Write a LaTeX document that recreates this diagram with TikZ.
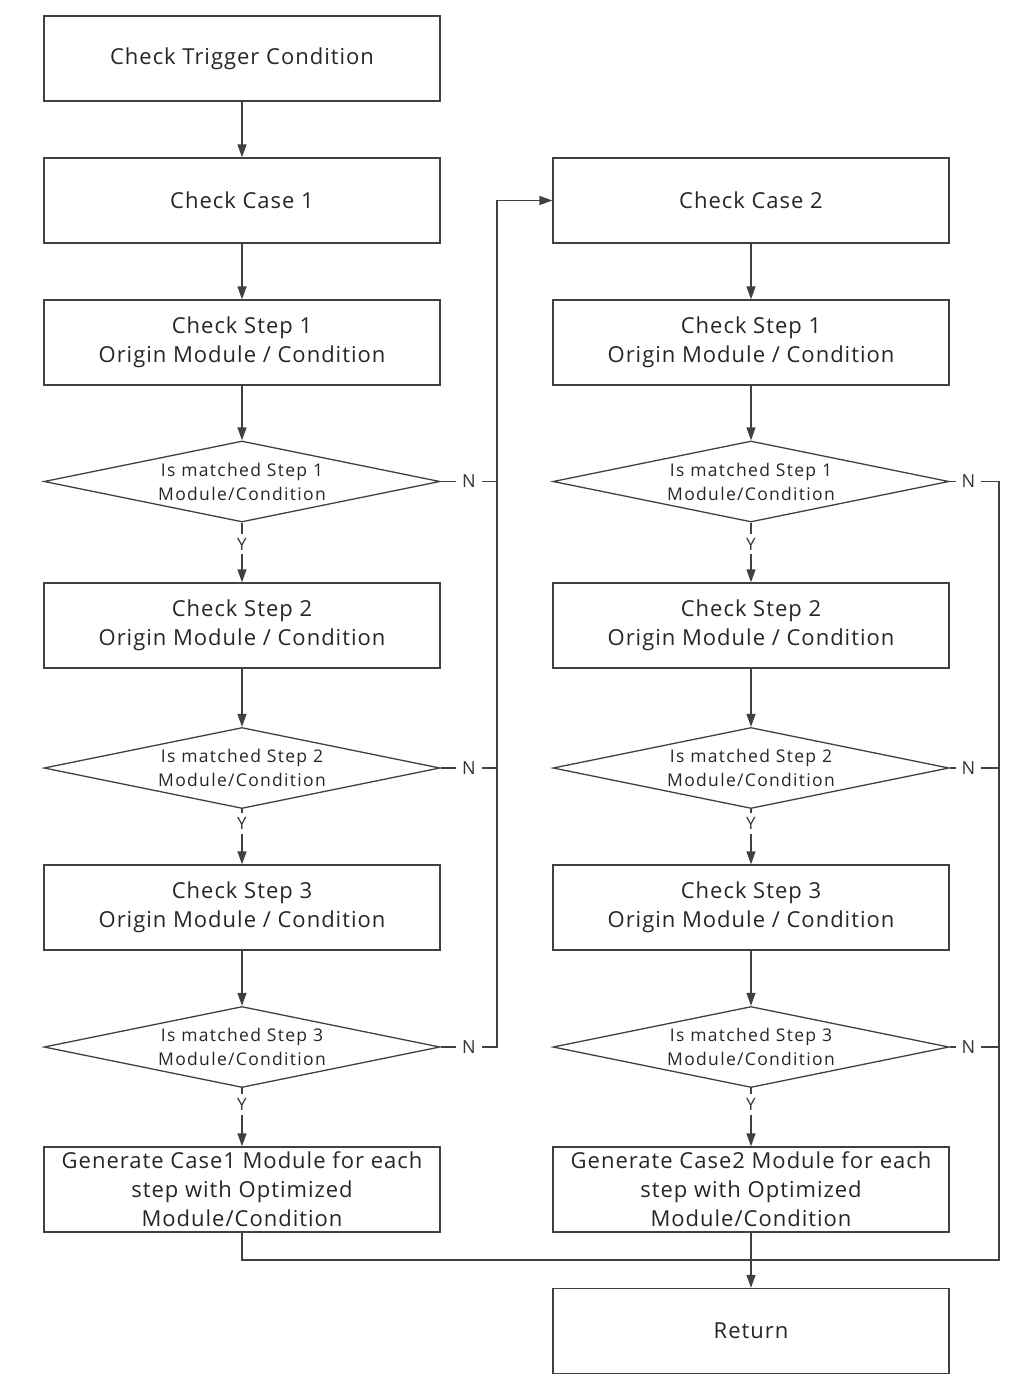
\documentclass[tikz,border=0pt]{standalone}
\usepackage{fontspec}
\setmainfont{Open Sans}
\newfontfamily\boxfont[LetterSpace=4.5]{Open Sans}
\newfontfamily\diafont[LetterSpace=7.5]{Open Sans}
\usetikzlibrary{shapes.geometric,arrows.meta}
\tikzset{
  box/.style={draw=black!75, line width=1.3pt, minimum width=396pt, minimum height=85pt, inner sep=0pt, align=center, font=\boxfont\fontsize{22}{29}\selectfont, text=black!85},
  dia/.style={draw=black!75, line width=1.3pt, shape=diamond, shape aspect=4.9, minimum width=396pt, minimum height=81pt, inner sep=0pt, align=center, font=\diafont\fontsize{17.5}{24}\selectfont, text=black!85},
  conn/.style={draw=black!75, line width=1.3pt},
  arr/.style={conn, -{Triangle[length=13pt,width=9pt]}},
  yl/.style={fill=white, inner sep=4pt, font=\fontsize{17}{19}\selectfont, text=black!80},
  nl/.style={fill=white, inner sep=6pt, font=\fontsize{18}{20}\selectfont, text=black!80}
}
\begin{document}
\begin{tikzpicture}[x=1pt,y=-1pt]
\useasboundingbox (0,0) rectangle (1034,1392);
% left column
\node[box] (trig) at (242,58.5) {Check Trigger Condition};
\node[box] (c1) at (242,200.5) {Check Case 1};
\node[box] (ls1) at (242,342.5) {Check Step 1\\Origin Module / Condition};
\node[dia] (ld1) at (242,481.5) {Is matched Step 1\\Module/Condition};
\node[box] (ls2) at (242,625.5) {Check Step 2\\Origin Module / Condition};
\node[dia] (ld2) at (242,768) {Is matched Step 2\\Module/Condition};
\node[box] (ls3) at (242,907.5) {Check Step 3\\Origin Module / Condition};
\node[dia] (ld3) at (242,1047) {Is matched Step 3\\Module/Condition};
\node[box] (lg) at (242,1189.5) {Generate Case1 Module for each\\step with Optimized\\Module/Condition};
% right column
\node[box] (c2) at (751,200.5) {Check Case 2};
\node[box] (rs1) at (751,342.5) {Check Step 1\\Origin Module / Condition};
\node[dia] (rd1) at (751,481.5) {Is matched Step 1\\Module/Condition};
\node[box] (rs2) at (751,625.5) {Check Step 2\\Origin Module / Condition};
\node[dia] (rd2) at (751,768) {Is matched Step 2\\Module/Condition};
\node[box] (rs3) at (751,907.5) {Check Step 3\\Origin Module / Condition};
\node[dia] (rd3) at (751,1047) {Is matched Step 3\\Module/Condition};
\node[box] (rg) at (751,1189.5) {Generate Case2 Module for each\\step with Optimized\\Module/Condition};
\node[box] (ret) at (751,1331) {Return};
% helper coordinates
\coordinate (vL) at (497,0);
\coordinate (vR) at (999,0);
\coordinate (jn) at (751,1260);
% left flow
\draw[arr] (trig) -- (c1);
\draw[arr] (c1) -- (ls1);
\draw[arr] (ls1) -- (ld1);
\draw[arr] (ld1) -- node[yl,pos=0.36] {Y} (ls2);
\draw[arr] (ls2) -- (ld2);
\draw[arr] (ld2) -- node[yl,pos=0.26] {Y} (ls3);
\draw[arr] (ls3) -- (ld3);
\draw[arr] (ld3) -- node[yl,pos=0.28] {Y} (lg);
% right flow
\draw[arr] (c2) -- (rs1);
\draw[arr] (rs1) -- (rd1);
\draw[arr] (rd1) -- node[yl,pos=0.36] {Y} (rs2);
\draw[arr] (rs2) -- (rd2);
\draw[arr] (rd2) -- node[yl,pos=0.26] {Y} (rs3);
\draw[arr] (rs3) -- (rd3);
\draw[arr] (rd3) -- node[yl,pos=0.28] {Y} (rg);
% left N branches
\draw[conn] (ld1.east) -- node[nl,pos=0.5] {N} (ld1.east -| vL);
\draw[conn] (ld2.east) -- node[nl,pos=0.5] {N} (ld2.east -| vL);
\draw[arr] (ld3.east) -- node[nl,pos=0.5] {N} (ld3.east -| vL) -- (vL |- c2.west) -- (c2.west);
% right N branches
\draw[conn] (rd1.east) -- node[nl,pos=0.38] {N} (rd1.east -| vR) -- (vR |- jn) -- (jn);
\draw[conn] (rd2.east) -- node[nl,pos=0.38] {N} (rd2.east -| vR);
\draw[conn] (rd3.east) -- node[nl,pos=0.38] {N} (rd3.east -| vR);
% merge
\draw[conn] (lg.south) -- (lg.south |- jn) -- (jn);
\draw[arr] (rg) -- (ret);
\end{tikzpicture}
\end{document}
